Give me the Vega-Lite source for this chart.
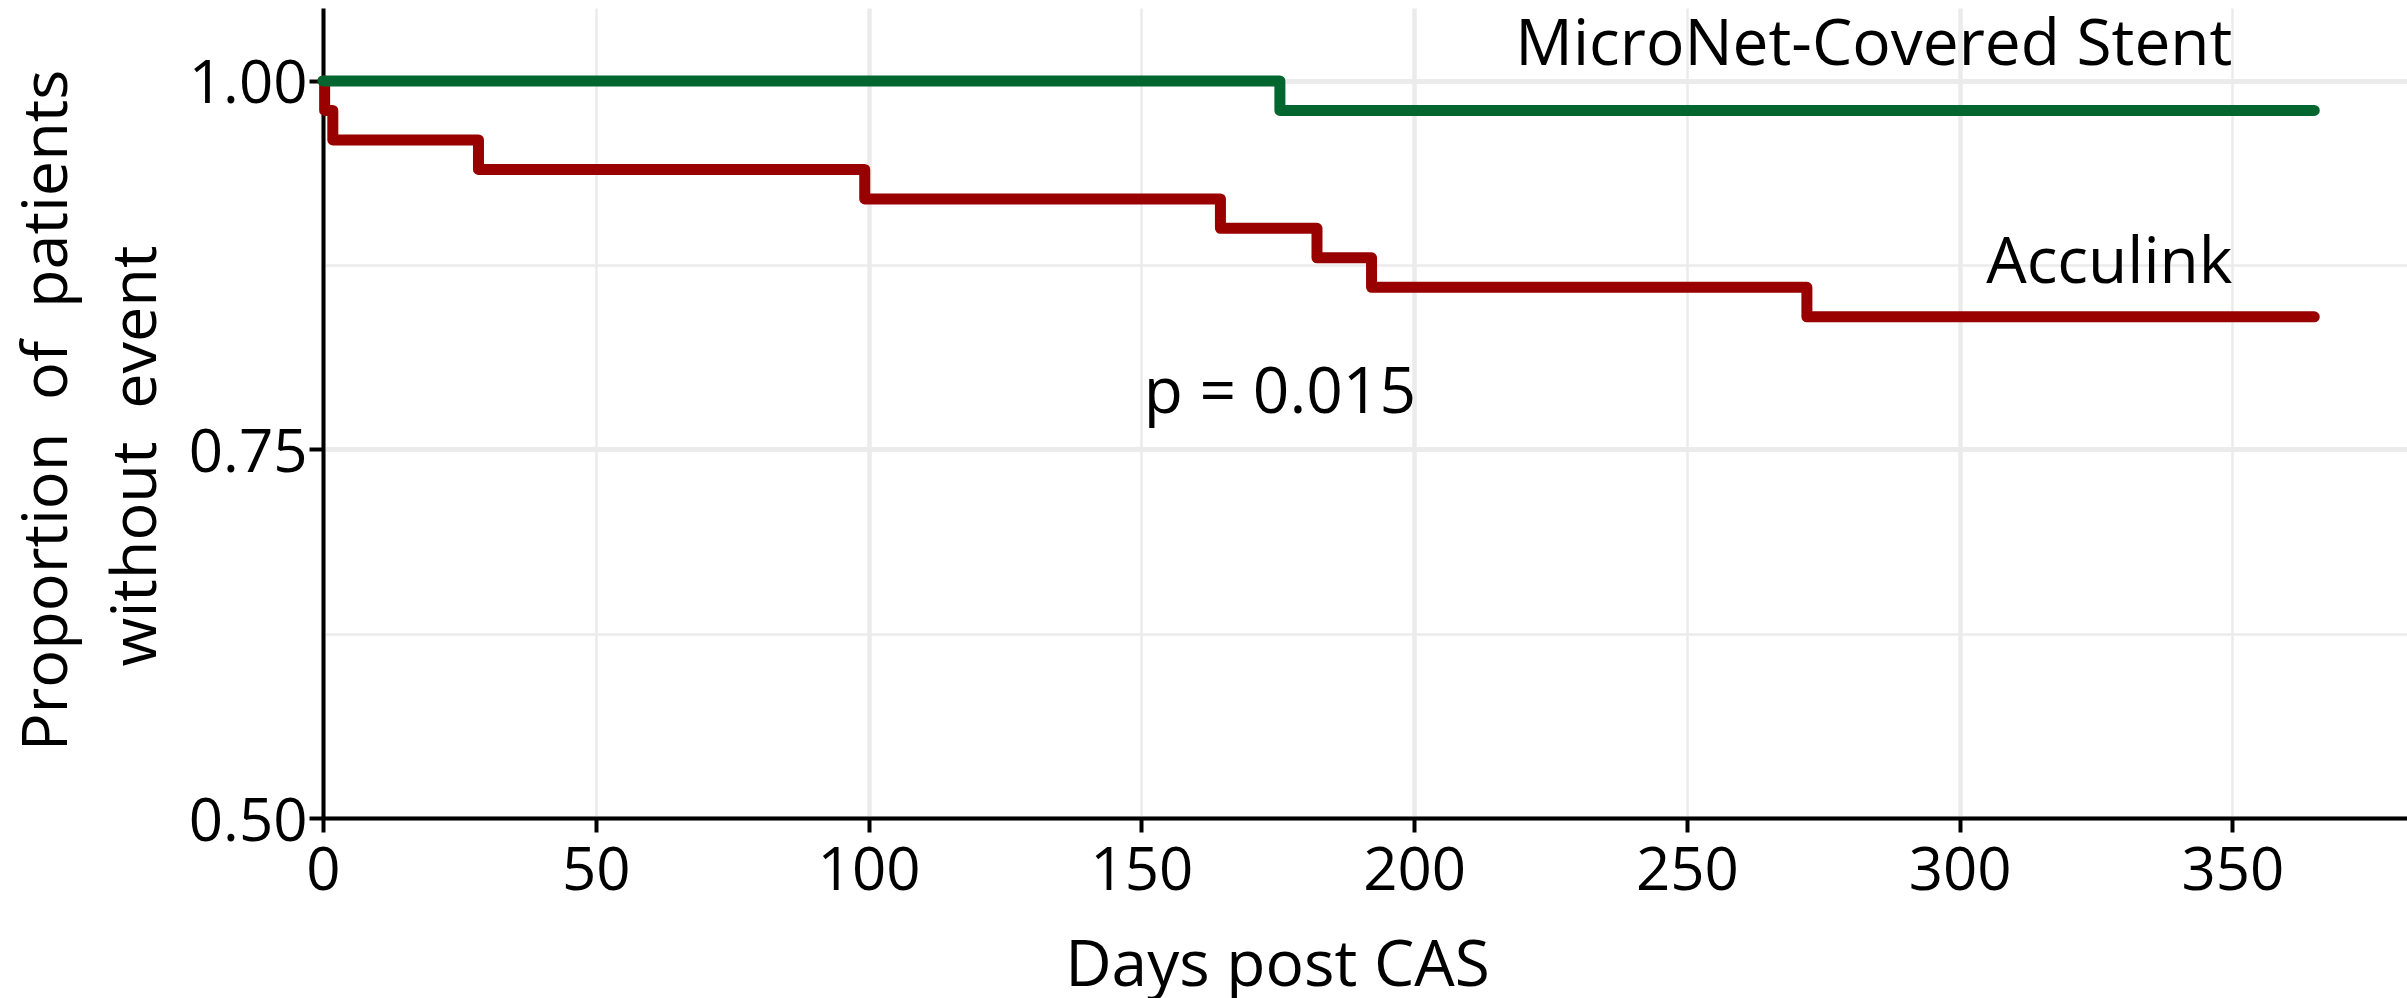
{
  "$schema": "https://vega.github.io/schema/vega-lite/v6.json",
  "autosize": {"type": "none"},
  "width": 2084,
  "height": 810,
  "padding": {"left": 323, "top": 8, "right": 0, "bottom": 180},
  "background": "white",
  "config": {"view": {"stroke": null}, "font": "Open Sans"},
  "datasets": {
    "km": [
      {"group": "Acculink", "day": 0, "surv": 1.0},
      {"group": "Acculink", "day": 0.3, "surv": 0.98},
      {"group": "Acculink", "day": 1.8, "surv": 0.96},
      {"group": "Acculink", "day": 28.5, "surv": 0.94},
      {"group": "Acculink", "day": 99.3, "surv": 0.92},
      {"group": "Acculink", "day": 164.5, "surv": 0.90},
      {"group": "Acculink", "day": 182.2, "surv": 0.88},
      {"group": "Acculink", "day": 192.2, "surv": 0.86},
      {"group": "Acculink", "day": 272, "surv": 0.84},
      {"group": "Acculink", "day": 365, "surv": 0.84},
      {"group": "MicroNet-Covered Stent", "day": 0, "surv": 1.0},
      {"group": "MicroNet-Covered Stent", "day": 175.4, "surv": 0.98},
      {"group": "MicroNet-Covered Stent", "day": 365, "surv": 0.98}
    ],
    "annot": [
      {"label": "MicroNet-Covered Stent", "day": 350, "surv": 1.011, "kind": "curve"},
      {"label": "Acculink", "day": 350, "surv": 0.863, "kind": "curve"},
      {"label": "p = 0.015", "day": 175.4, "surv": 0.775, "kind": "stat"},
      {"label": "without\u00a0\u00a0event", "day": -30.6, "surv": 0.7456, "kind": "ytitle"}
    ]
  },
  "layer": [
    {
      "data": {"name": "km"},
      "mark": {"type": "line", "interpolate": "step-after", "strokeWidth": 11, "strokeCap": "round", "strokeJoin": "round"},
      "encoding": {
        "x": {
          "field": "day", "type": "quantitative",
          "scale": {"domain": [0, 382], "nice": false, "zero": false},
          "axis": {
            "values": [0, 50, 100, 150, 200, 250, 300, 350],
            "format": "d",
            "title": "Days post CAS",
            "titleFontSize": 64, "titleFontWeight": "normal", "titleColor": "black",
            "titleX": 954, "titleY": 167, "titleAlign": "center", "titleBaseline": "alphabetic",
            "labelFontSize": 60, "labelColor": "black", "labelPadding": 10, "labelFlush": false, "labelOverlap": false,
            "tickSize": 14, "tickWidth": 4, "tickColor": "black",
            "domainColor": "black", "domainWidth": 4,
            "grid": true, "gridColor": "#ebebeb",
            "gridWidth": {"condition": {"test": "datum.value % 100 === 0", "value": 4.5}, "value": 2.5}
          }
        },
        "y": {
          "field": "surv", "type": "quantitative",
          "scale": {"domain": [0.5, 1.0495], "nice": false, "zero": false},
          "axis": {
            "values": [0.5, 0.625, 0.75, 0.875, 1.0],
            "labelExpr": "(datum.value === 0.5 || datum.value === 0.75 || datum.value === 1) ? format(datum.value, '.2f') : ''",
            "title": "Proportion\u00a0\u00a0of\u00a0\u00a0patients",
            "titleFontSize": 63, "titleFontWeight": "normal", "titleColor": "black",
            "titleAngle": 270,
            "titleX": -307, "titleY": 402, "titleAlign": "center", "titleBaseline": "top",
            "labelFontSize": 60, "labelColor": "black", "labelPadding": 2, "labelOffset": 4, "labelOverlap": false, "labelFlush": false,
            "tickSize": 14, "tickWidth": 4, "tickColor": "black",
            "tickOpacity": {"condition": {"test": "datum.value === 0.625 || datum.value === 0.875", "value": 0}, "value": 1},
            "domainColor": "black", "domainWidth": 4,
            "grid": true, "gridColor": "#ebebeb",
            "gridWidth": {"condition": {"test": "datum.value === 0.625 || datum.value === 0.875", "value": 2.5}, "value": 5}
          }
        },
        "color": {
          "field": "group", "type": "nominal",
          "scale": {"domain": ["Acculink", "MicroNet-Covered Stent"], "range": ["#990000", "#03662f"]},
          "legend": null
        }
      }
    },
    {
      "data": {"name": "annot"},
      "transform": [{"filter": "datum.kind === 'curve'"}],
      "mark": {"type": "text", "fontSize": 64, "color": "black", "align": "right", "baseline": "alphabetic"},
      "encoding": {
        "x": {"field": "day", "type": "quantitative"},
        "y": {"field": "surv", "type": "quantitative"},
        "text": {"field": "label"}
      }
    },
    {
      "data": {"name": "annot"},
      "transform": [{"filter": "datum.kind === 'stat'"}],
      "mark": {"type": "text", "fontSize": 64, "color": "black", "align": "center", "baseline": "alphabetic"},
      "encoding": {
        "x": {"field": "day", "type": "quantitative"},
        "y": {"field": "surv", "type": "quantitative"},
        "text": {"field": "label"}
      }
    },
    {
      "data": {"name": "annot"},
      "transform": [{"filter": "datum.kind === 'ytitle'"}],
      "mark": {"type": "text", "fontSize": 63, "color": "black", "align": "center", "baseline": "alphabetic", "angle": 270, "clip": false},
      "encoding": {
        "x": {"field": "day", "type": "quantitative"},
        "y": {"field": "surv", "type": "quantitative"},
        "text": {"field": "label"}
      }
    }
  ]
}
